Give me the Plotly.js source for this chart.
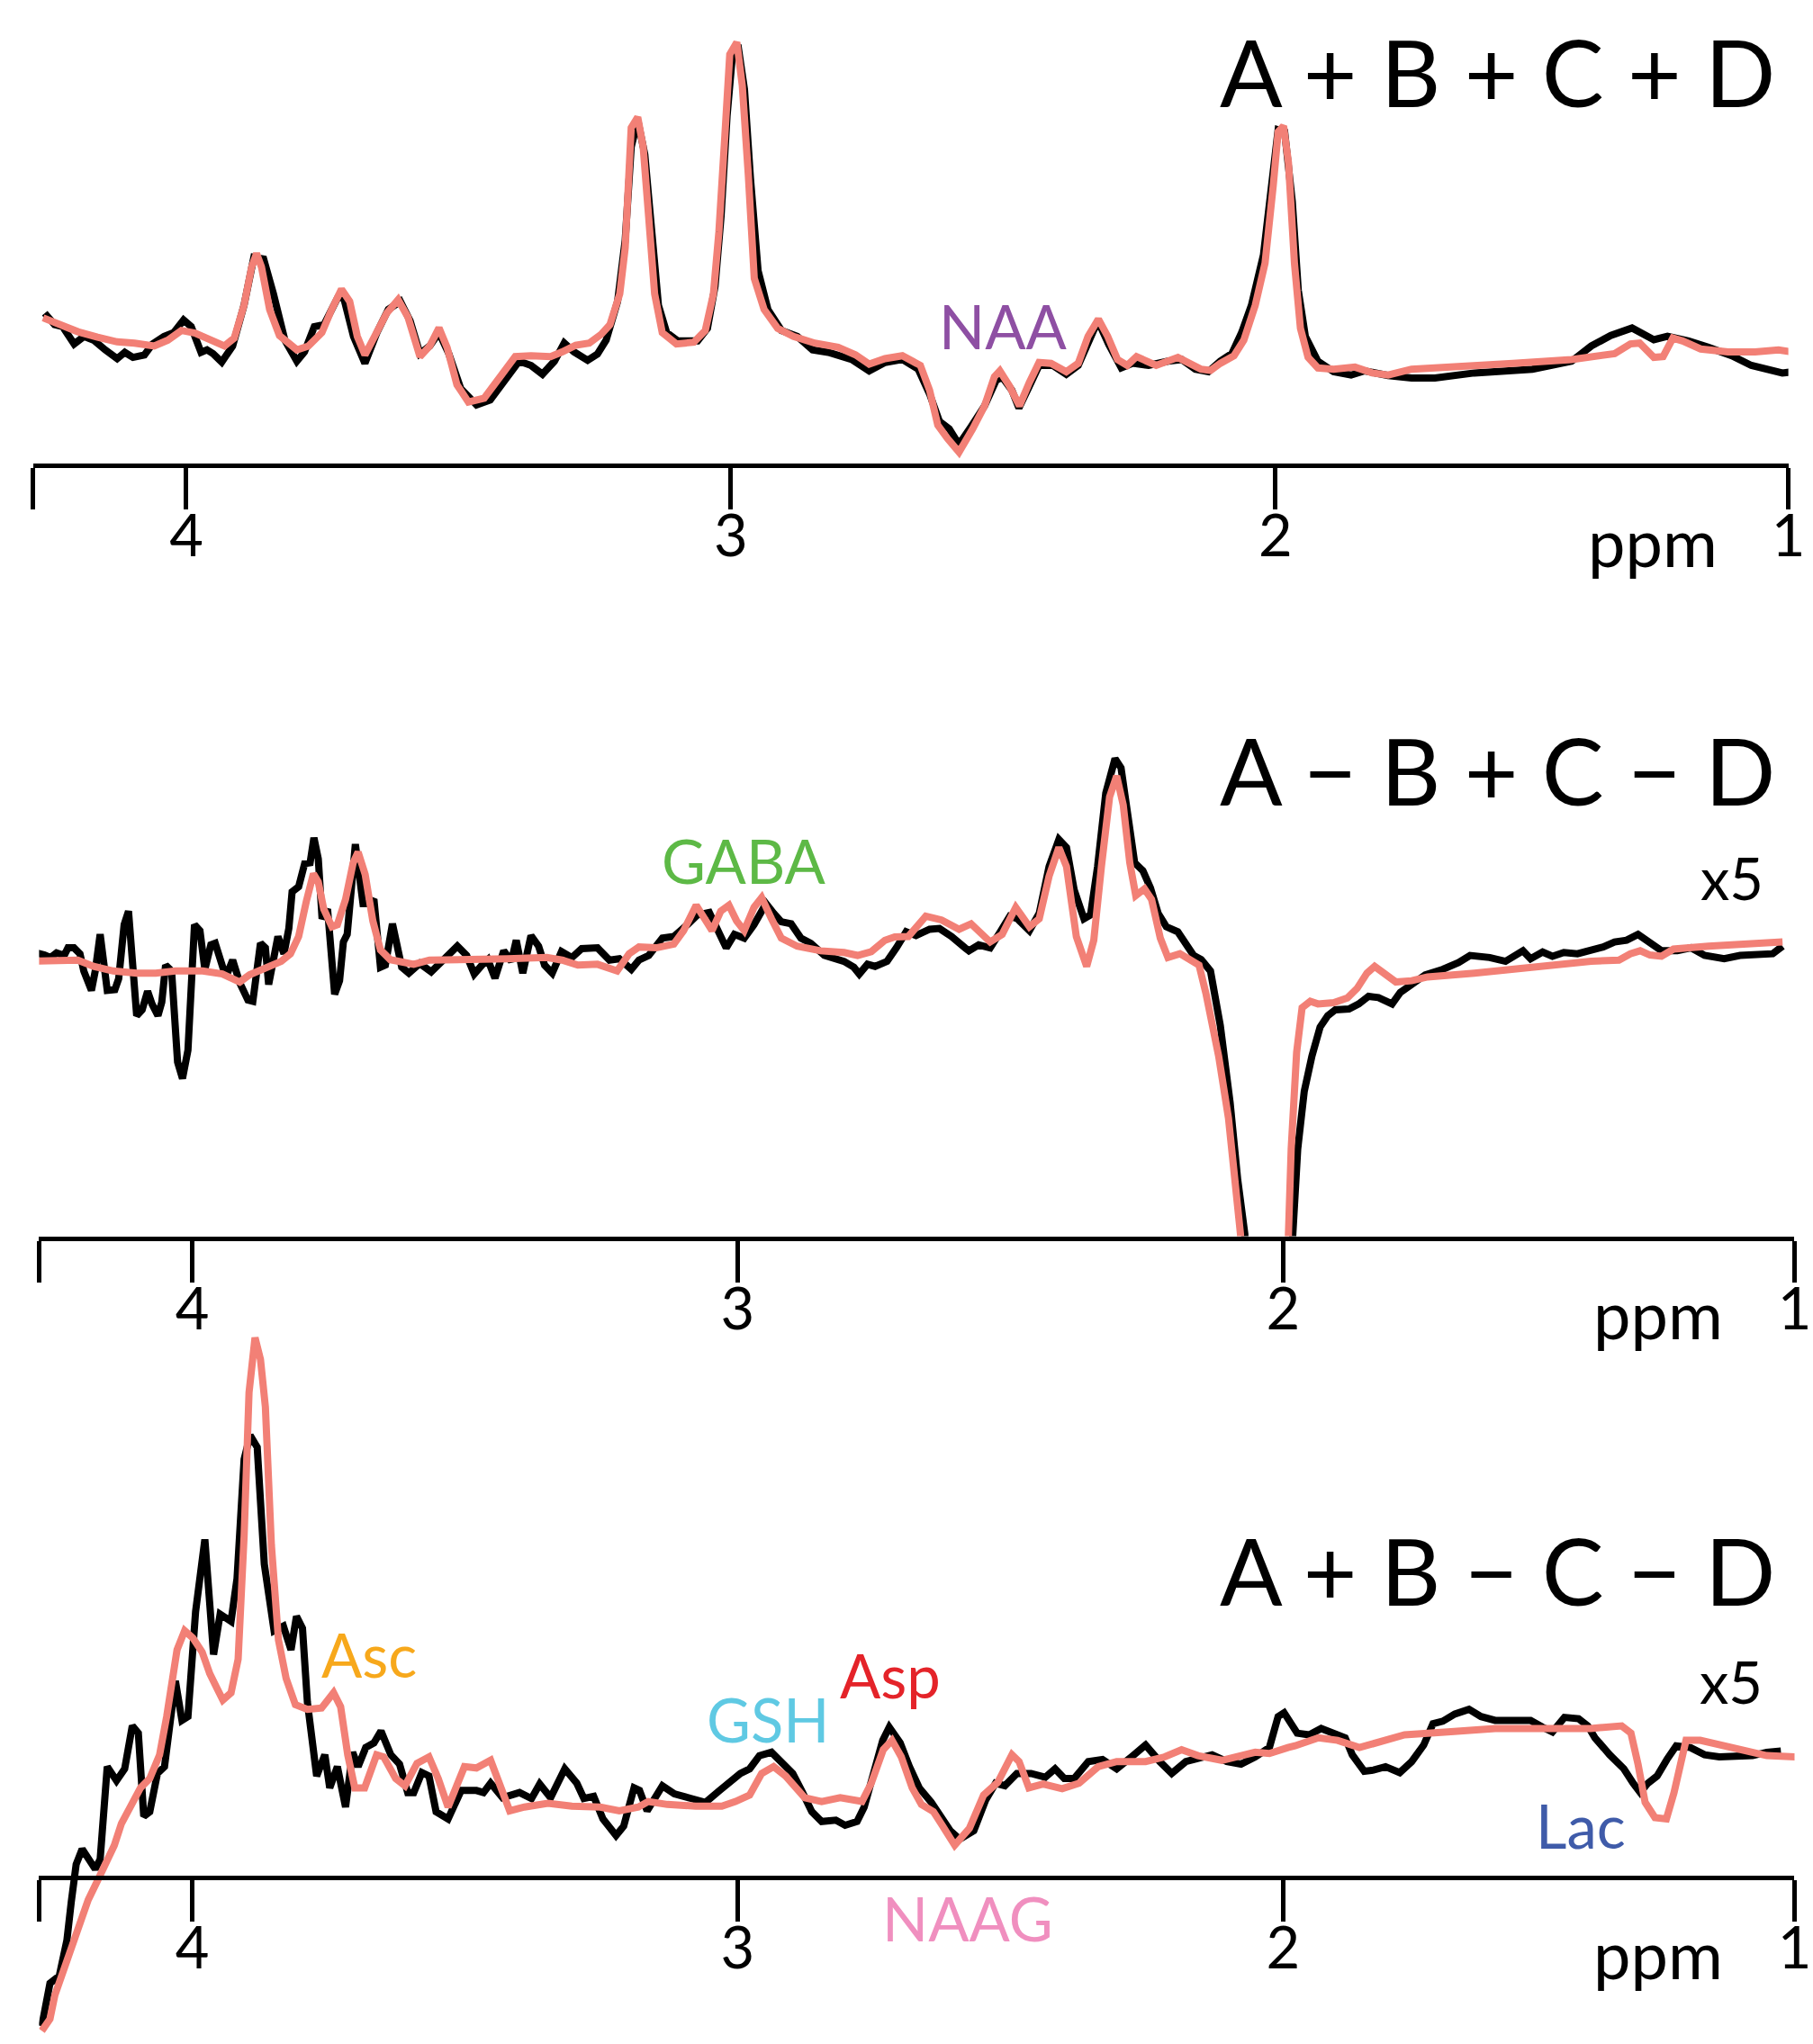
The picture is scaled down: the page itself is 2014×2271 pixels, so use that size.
<!DOCTYPE html>
<html>
<head>
<meta charset="utf-8">
<script src="https://cdn.plot.ly/plotly-3.0.1.min.js"></script>
<style>
  html, body { margin: 0; padding: 0; background: #fff; }
  #chart { width: 2014px; height: 2271px; }
</style>
</head>
<body>
<div id="chart"></div>
<script>
// ---- panel 1 : A + B + C + D ----
var p1BlackPpm = [4.260,4.242,4.227,4.206,4.188,4.170,4.149,4.127,4.113,4.098,4.077,4.062,4.041,4.023,4.005,3.991,3.973,3.962,3.951,3.935,3.915,3.894,3.876,3.858,3.840,3.819,3.797,3.783,3.765,3.747,3.722,3.711,3.693,3.672,3.650,3.629,3.607,3.589,3.571,3.553,3.536,3.518,3.496,3.467,3.442,3.417,3.389,3.367,3.346,3.324,3.306,3.288,3.263,3.245,3.229,3.208,3.194,3.183,3.171,3.158,3.145,3.133,3.118,3.097,3.061,3.043,3.029,3.018,3.007,2.997,2.987,2.975,2.964,2.950,2.932,2.907,2.878,2.850,2.821,2.778,2.746,2.717,2.685,2.656,2.635,2.617,2.599,2.581,2.559,2.534,2.513,2.502,2.484,2.471,2.452,2.434,2.409,2.384,2.362,2.342,2.326,2.306,2.283,2.262,2.233,2.197,2.172,2.147,2.123,2.101,2.080,2.062,2.044,2.022,2.008,1.995,1.983,1.969,1.958,1.945,1.922,1.893,1.861,1.836,1.793,1.750,1.707,1.635,1.528,1.456,1.420,1.384,1.345,1.327,1.305,1.280,1.241,1.205,1.162,1.126,1.098,1.069,1.047];
var p1BlackAmp = [35.3,32.6,32.1,28.0,29.8,28.9,26.6,24.5,26.0,24.8,25.4,28.0,29.8,30.7,33.7,32.1,26.0,26.6,25.7,23.7,27.5,37.2,48.6,48.2,39.9,28.9,23.9,26.1,32.1,32.6,39.0,39.0,29.8,23.4,30.7,36.2,38.1,33.5,25.7,27.5,30.7,25.7,17.4,13.5,14.7,19.3,23.9,22.9,20.8,23.9,28.2,26.1,24.1,25.6,28.9,38.1,52.7,74.8,81.2,73.0,54.6,37.2,30.7,28.7,28.7,31.7,41.7,58.3,82.1,96.8,99.1,88.5,67.4,45.4,36.2,31.2,29.8,26.6,26.0,24.3,21.6,23.6,24.3,22.0,16.1,9.6,7.8,4.1,8.3,13.3,19.3,20.2,17.0,12.8,17.9,22.9,22.9,20.8,22.9,29.4,33.5,27.9,22.3,23.4,22.9,23.9,24.3,22.0,21.4,23.9,25.7,30.7,37.2,49.1,66.5,78.9,78.4,61.9,40.8,29.8,23.9,21.4,20.6,21.6,20.5,19.9,19.9,21.1,22.0,23.9,27.5,30.0,31.8,30.5,29.0,29.8,28.7,27.2,25.2,22.9,22.0,21.1,21.4];
var p1RedPpm = [4.263,4.234,4.199,4.163,4.127,4.095,4.059,4.034,4.009,3.984,3.955,3.930,3.912,3.894,3.880,3.871,3.862,3.847,3.829,3.797,3.776,3.751,3.733,3.715,3.700,3.686,3.672,3.657,3.632,3.611,3.593,3.571,3.553,3.536,3.521,3.503,3.482,3.453,3.424,3.396,3.367,3.331,3.310,3.285,3.260,3.238,3.222,3.204,3.194,3.183,3.171,3.161,3.151,3.140,3.126,3.100,3.068,3.047,3.032,3.022,3.011,3.002,2.989,2.979,2.968,2.957,2.939,2.914,2.885,2.846,2.803,2.771,2.746,2.717,2.685,2.652,2.635,2.620,2.602,2.581,2.556,2.534,2.516,2.506,2.488,2.470,2.452,2.434,2.412,2.384,2.362,2.344,2.325,2.308,2.290,2.272,2.255,2.219,2.179,2.151,2.137,2.119,2.101,2.076,2.058,2.037,2.019,2.004,1.995,1.985,1.976,1.965,1.954,1.940,1.922,1.893,1.854,1.822,1.793,1.750,1.671,1.564,1.456,1.377,1.348,1.331,1.305,1.288,1.270,1.252,1.219,1.169,1.119,1.076,1.047];
var p1RedAmp = [34.2,32.6,30.9,29.6,28.5,28.2,27.5,28.9,31.2,30.6,28.9,27.5,29.4,37.2,46.3,49.5,46.3,36.2,30.0,26.6,27.5,30.7,36.2,41.0,38.1,29.8,25.4,28.9,35.3,38.5,34.4,25.0,27.5,31.8,27.1,18.3,14.2,15.1,20.2,25.0,25.2,25.0,26.1,27.7,28.2,30.3,32.6,39.9,50.9,79.4,81.9,74.8,58.3,39.9,30.7,28.0,28.4,31.2,39.9,54.6,77.5,96.8,99.7,89.4,68.3,43.6,36.2,31.7,29.8,28.2,27.2,25.4,23.2,24.5,25.2,22.9,17.0,8.7,5.5,2.3,7.8,13.3,20.2,21.6,17.9,13.3,18.8,23.6,23.4,21.4,23.4,29.8,33.9,29.8,24.3,22.9,25.0,22.9,24.8,22.9,22.0,21.7,23.4,25.2,28.9,37.2,47.2,65.6,78.4,79.8,71.1,47.2,31.7,24.8,22.3,22.0,22.5,21.1,20.6,22.0,22.5,23.4,24.3,25.7,28.0,28.2,24.8,25.0,29.4,28.7,26.8,26.1,26.1,26.6,26.0];

// ---- panel 2 : A - B + C - D (x5) ----
var p2BlackPpm = [4.296,4.285,4.271,4.260,4.249,4.235,4.228,4.217,4.206,4.199,4.185,4.178,4.169,4.156,4.142,4.135,4.125,4.117,4.102,4.092,4.082,4.074,4.063,4.056,4.049,4.038,4.027,4.018,4.008,3.996,3.986,3.977,3.966,3.958,3.943,3.934,3.926,3.913,3.898,3.889,3.875,3.866,3.860,3.843,3.832,3.823,3.817,3.805,3.794,3.784,3.777,3.769,3.762,3.752,3.739,3.730,3.723,3.716,3.701,3.687,3.676,3.667,3.655,3.646,3.633,3.616,3.603,3.583,3.562,3.544,3.530,3.514,3.497,3.483,3.469,3.458,3.445,3.429,3.415,3.406,3.394,3.379,3.365,3.354,3.340,3.323,3.304,3.286,3.257,3.235,3.217,3.195,3.181,3.163,3.138,3.117,3.092,3.074,3.052,3.036,3.021,3.006,2.988,2.970,2.948,2.934,2.920,2.902,2.884,2.866,2.841,2.805,2.787,2.777,2.762,2.748,2.726,2.709,2.691,2.673,2.648,2.630,2.608,2.583,2.576,2.558,2.537,2.519,2.501,2.487,2.465,2.447,2.429,2.411,2.397,2.383,2.365,2.353,2.340,2.325,2.308,2.297,2.282,2.272,2.257,2.243,2.229,2.214,2.193,2.179,2.164,2.150,2.133,2.115,2.097,2.083,2.070,2.050,2.025,2.000,1.982,1.973,1.961,1.947,1.932,1.918,1.904,1.879,1.861,1.843,1.825,1.800,1.785,1.764,1.739,1.707,1.678,1.657,1.621,1.592,1.560,1.546,1.524,1.506,1.485,1.460,1.435,1.413,1.392,1.370,1.349,1.331,1.306,1.277,1.252,1.227,1.191,1.162,1.134,1.102,1.084];
var p2BlackAmp = [65.1,66.7,66.2,65.6,66.7,66.1,67.9,67.9,66.5,62.4,57.8,62.4,71.1,57.8,58.0,60.6,73.4,76.6,51.8,53.2,57.6,54.6,51.8,55.0,63.8,62.4,40.8,36.9,43.6,73.4,72.0,62.8,68.6,69.0,62.8,62.4,65.0,59.6,55.5,55.2,69.0,67.9,59.2,70.6,66.5,72.5,81.2,82.4,87.9,88.1,94.0,89.0,74.8,77.1,56.9,60.1,69.3,71.1,92.5,78.4,78.4,79.4,63.3,63.8,73.6,63.3,61.9,64.2,62.2,64.4,66.1,68.3,66.1,61.7,63.8,65.1,60.7,67.2,64.7,69.7,61.9,70.8,68.3,63.8,61.9,67.0,65.6,67.7,67.9,65.0,65.3,62.8,65.0,66.1,70.2,70.6,73.4,75.7,76.3,71.6,67.9,71.1,70.2,73.4,78.4,76.1,74.1,73.6,70.2,69.0,66.1,64.7,63.3,61.7,64.0,63.5,64.7,67.9,71.7,70.8,72.3,72.5,70.6,67.9,67.2,68.6,67.9,71.6,75.4,74.8,72.0,76.1,87.2,93.6,91.7,81.7,74.8,75.7,87.2,104.6,112.8,110.6,98.2,88.1,86.2,82.1,76.1,72.9,71.7,68.8,66.1,65.1,62.4,49.5,31.2,12.8,0,-80,-250,-80,0,20.2,33.9,42.2,49.1,51.8,53.2,53.4,54.6,56.4,56.1,54.6,57.3,59.2,61.5,62.8,64.4,66.1,65.6,64.7,67.2,65.3,66.9,65.9,66.8,66.5,67.2,68.1,69.3,69.7,71.1,69.3,67.2,67.2,67.9,66.1,65.3,66.1,66.2,66.5,68.3];
var p2RedPpm = [4.296,4.246,4.210,4.181,4.145,4.102,4.067,4.031,3.981,3.945,3.913,3.895,3.866,3.837,3.820,3.805,3.791,3.778,3.769,3.759,3.744,3.734,3.719,3.705,3.696,3.683,3.669,3.655,3.637,3.594,3.565,3.494,3.422,3.350,3.322,3.293,3.257,3.221,3.199,3.181,3.149,3.117,3.099,3.076,3.060,3.047,3.031,3.016,3.002,2.988,2.970,2.956,2.938,2.920,2.891,2.848,2.805,2.780,2.755,2.730,2.712,2.687,2.673,2.655,2.626,2.594,2.572,2.555,2.537,2.515,2.490,2.465,2.447,2.429,2.411,2.397,2.379,2.360,2.347,2.333,2.318,2.305,2.293,2.281,2.270,2.254,2.241,2.225,2.211,2.189,2.171,2.154,2.141,2.118,2.100,2.086,2.078,2.060,2.035,2.010,1.992,1.985,1.975,1.965,1.950,1.936,1.907,1.882,1.864,1.846,1.832,1.814,1.793,1.764,1.735,1.649,1.542,1.435,1.384,1.363,1.345,1.327,1.306,1.284,1.220,1.148,1.084];
var p2RedAmp = [64.7,65.1,65.0,63.5,62.4,61.9,61.9,62.4,62.4,61.7,59.8,61.5,63.3,64.7,66.5,70.6,78.9,85.5,83.5,77.1,72.9,73.4,79.4,88.1,90.6,85.3,74.3,67.4,65.1,64.0,65.0,65.0,65.3,65.6,65.0,63.8,64.0,62.4,66.5,68.1,67.9,68.8,72.0,78.0,74.8,72.0,76.6,78.0,74.3,72.0,77.5,79.8,74.8,70.2,68.3,67.2,66.8,66.1,67.0,69.7,70.5,70.6,72.7,75.4,74.5,72.3,73.6,71.7,69.3,71.1,77.5,72.9,74.8,84.9,91.7,87.2,70.6,63.5,69.7,87.2,103.7,108.7,101.8,88.1,80.3,81.9,79.4,70.2,65.6,66.5,65.3,63.8,56.9,42.2,27.5,11.0,0,-80,-250,-80,0,20.2,43.1,53.7,55.2,54.6,54.9,56.0,58.3,61.9,63.5,61.7,59.8,60.1,61.0,61.9,63.5,64.7,65.0,66.5,67.2,66.2,65.9,67.6,68.3,68.8,69.3];

// ---- panel 3 : A + B - C - D (x5) ----
var p3BlackPpm = [4.276,4.261,4.244,4.230,4.222,4.213,4.202,4.191,4.178,4.169,4.156,4.139,4.124,4.110,4.099,4.089,4.078,4.064,4.051,4.031,4.019,4.008,3.994,3.977,3.961,3.949,3.929,3.918,3.905,3.894,3.881,3.868,3.850,3.833,3.819,3.809,3.798,3.789,3.780,3.772,3.757,3.748,3.734,3.719,3.706,3.696,3.682,3.667,3.654,3.636,3.620,3.605,3.594,3.579,3.566,3.553,3.531,3.507,3.479,3.466,3.453,3.431,3.400,3.378,3.363,3.343,3.317,3.295,3.282,3.264,3.247,3.223,3.209,3.190,3.180,3.166,3.138,3.116,3.085,3.059,3.033,3.007,2.995,2.978,2.960,2.938,2.921,2.899,2.881,2.864,2.846,2.820,2.803,2.781,2.768,2.750,2.734,2.722,2.702,2.685,2.667,2.645,2.628,2.610,2.593,2.567,2.545,2.527,2.510,2.488,2.462,2.436,2.418,2.401,2.383,2.357,2.331,2.305,2.278,2.252,2.226,2.204,2.178,2.130,2.103,2.077,2.051,2.025,2.009,1.998,1.974,1.952,1.930,1.908,1.886,1.873,1.851,1.834,1.812,1.786,1.764,1.742,1.725,1.707,1.685,1.659,1.637,1.611,1.576,1.546,1.524,1.506,1.484,1.458,1.441,1.428,1.401,1.375,1.358,1.345,1.331,1.314,1.296,1.279,1.253,1.227,1.200,1.174,1.139,1.113,1.087];
var p3BlackAmp = [-35.0,-24.9,-23.2,-14.8,-5.8,3.1,6.7,4.3,2.0,4.3,26.1,22.8,25.6,35.7,34.0,14.4,15.5,24.5,26.1,46.3,37.0,37.9,62.6,79.6,52.5,62.0,60.3,70.4,98.5,104.1,101.3,73.8,58.1,59.2,53.6,61.5,58.7,41.3,31.2,23.9,28.9,21.1,26.1,16.6,29.5,26.1,30.6,31.7,34.5,28.9,26.7,20.0,20.0,24.7,23.9,15.5,13.8,20.5,20.5,20.0,22.2,18.8,20.0,18.6,22.0,18.8,25.6,22.2,18.6,19.1,13.8,9.9,12.1,21.1,20.5,15.7,21.6,19.7,18.6,17.7,20.5,23.6,24.5,25.6,28.7,29.5,27.3,24.5,20.0,15.5,13.2,13.5,12.3,13.2,16.6,24.5,32.3,35.4,31.7,26.1,21.1,17.7,14.6,11.0,9.0,11.0,18.3,22.2,21.6,24.5,24.5,23.6,25.6,23.3,23.3,27.3,27.8,25.6,28.4,31.2,27.3,24.5,27.3,28.9,27.3,26.7,28.4,30.6,37.9,38.8,34.0,33.6,35.1,34.0,32.9,28.9,25.0,25.3,26.1,24.7,27.3,31.2,36.2,36.8,38.5,39.6,37.9,37.0,37.0,37.0,35.4,34.3,37.7,37.4,35.7,32.9,28.9,25.6,22.2,20.0,22.2,23.9,27.8,31.0,30.6,28.9,28.4,28.7,28.7,29.5,29.8];
var p3RedPpm = [4.276,4.261,4.252,4.239,4.222,4.209,4.191,4.174,4.156,4.143,4.130,4.112,4.095,4.078,4.060,4.047,4.038,4.028,4.014,3.999,3.982,3.968,3.955,3.944,3.929,3.916,3.905,3.896,3.885,3.875,3.866,3.855,3.842,3.828,3.811,3.789,3.763,3.741,3.728,3.715,3.702,3.684,3.662,3.649,3.627,3.610,3.588,3.566,3.549,3.531,3.501,3.479,3.453,3.435,3.418,3.391,3.348,3.304,3.252,3.217,3.182,3.164,3.129,3.077,3.029,3.004,2.978,2.956,2.934,2.912,2.877,2.846,2.812,2.772,2.755,2.733,2.717,2.700,2.680,2.663,2.641,2.624,2.602,2.575,2.549,2.523,2.497,2.484,2.466,2.440,2.405,2.374,2.339,2.305,2.252,2.217,2.186,2.156,2.112,2.051,2.025,1.991,1.978,1.935,1.900,1.860,1.821,1.777,1.698,1.611,1.524,1.436,1.379,1.362,1.349,1.336,1.318,1.297,1.283,1.270,1.261,1.235,1.174,1.113,1.060];
var p3RedAmp = [-36.1,-33.3,-27.7,-22.7,-16.5,-11.4,-5.3,-0.8,4.3,7.6,12.7,17.2,21.1,23.3,28.9,37.9,44.6,53.6,58.1,56.4,53.1,48.0,44.6,41.8,43.5,51.4,80.5,114.2,127.1,122.0,110.8,78.3,55.9,46.9,40.7,39.6,39.9,43.5,40.2,28.9,21.1,21.1,28.9,28.4,23.3,21.6,26.9,28.4,23.3,16.6,26.1,25.8,27.6,21.1,15.7,16.6,17.5,16.8,16.6,15.7,16.6,17.9,17.2,16.8,16.8,17.9,19.4,24.5,26.1,23.9,18.8,17.9,18.8,17.9,22.2,30.1,32.3,28.4,21.1,17.2,15.5,12.1,7.6,11.6,19.4,22.4,28.9,27.3,21.1,22.0,20.9,22.2,26.1,27.3,27.3,28.4,30.1,28.7,27.6,29.5,29.2,30.6,31.0,32.9,32.3,30.6,32.1,33.6,34.3,35.1,35.1,35.1,35.7,34.0,26.7,17.7,14.1,13.8,20.0,27.8,32.3,32.3,30.6,28.7,28.4];

// axis ticks (left end, 4, 3, 2, right end labelled 1)
var tickText = ['', '4', '3', '2', '1'];
var xLeft = 4.281;
var xRight1 = 1.058;
var xRight23 = 1.062;

var FONT = 'Lato, "Noto Sans", sans-serif';
var BLACK = '#000000';
var SALMON = '#F28076';

function xaxisCfg(domain, right, extra) {
  var c = {
    domain: domain,
    range: [xLeft, right],
    autorange: false,
    showgrid: false,
    zeroline: false,
    showline: true,
    linecolor: '#000',
    linewidth: 5,
    ticks: 'outside',
    ticklen: 46,
    tickwidth: 5,
    tickcolor: '#000',
    tickmode: 'array',
    tickvals: [xLeft, 4, 3, 2, right],
    ticktext: tickText,
    ticklabelstandoff: -26,
    tickfont: { family: FONT, size: 65, color: '#000' },
    fixedrange: true
  };
  for (var k in extra) c[k] = extra[k];
  return c;
}
function yaxisCfg(domain, range, anchor) {
  return { domain: domain, range: range, autorange: false, visible: false, anchor: anchor, fixedrange: true };
}

function line(x, y, color, width, xa, ya) {
  return { x: x, y: y, mode: 'lines', xaxis: xa, yaxis: ya, hoverinfo: 'skip',
           line: { color: color, width: width }, showlegend: false };
}

var data = [
  line(p1BlackPpm, p1BlackAmp, BLACK, 8, 'x', 'y'),
  line(p1RedPpm, p1RedAmp, SALMON, 8, 'x', 'y'),
  line(p2BlackPpm, p2BlackAmp, BLACK, 8, 'x2', 'y2'),
  line(p2RedPpm, p2RedAmp, SALMON, 8, 'x2', 'y2'),
  line(p3BlackPpm, p3BlackAmp, BLACK, 8, 'x3', 'y3'),
  line(p3RedPpm, p3RedAmp, SALMON, 8, 'x3', 'y3')
];

function label(text, x, y, size, color, xanchor) {
  return { text: text, x: x, y: y, xref: 'paper', yref: 'paper', showarrow: false,
           xanchor: xanchor || 'center', yanchor: 'middle',
           font: { family: FONT, size: size, color: color } };
}

var layout = {
  width: 2014,
  height: 2271,
  margin: { l: 0, r: 0, t: 0, b: 0, pad: 0 },
  paper_bgcolor: '#fff',
  plot_bgcolor: 'rgba(0,0,0,0)',
  xaxis: xaxisCfg([0.01837, 0.98640], xRight1, { anchor: 'y' }),
  yaxis: yaxisCfg([0.77301, 1], [-0.53, 109.75], 'x'),
  xaxis2: xaxisCfg([0.02155, 0.98982], xRight23, { anchor: 'y2' }),
  yaxis2: yaxisCfg([0.39520, 0.66535], [-0.53, 130.5], 'x2'),
  xaxis3: xaxisCfg([0.02155, 0.98982], xRight23, { anchor: 'free', position: 0.08146 }),
  yaxis3: yaxisCfg([0, 0.36548], [-39.2, 136.7], 'x3'),
  annotations: [
    label('A + B + C + D', 0.98014, 0.96521, 103, '#000', 'right'),
    label('A \u2212 B + C \u2212 D', 0.98014, 0.62352, 103, '#000', 'right'),
    label('A + B \u2212 C \u2212 D', 0.98014, 0.23206, 103, '#000', 'right'),
    label('x5', 0.97368, 0.57067, 65, '#000', 'right'),
    label('x5', 0.97294, 0.17724, 65, '#000', 'right'),
    label('ppm', 0.91162, 0.73500, 74, '#000'),
    label('ppm', 0.91460, 0.35718, 74, '#000'),
    label('ppm', 0.91460, 0.04411, 74, '#000'),
    label('NAA', 0.55313, 0.84060, 67, '#8E4FA3'),
    label('GABA', 0.41048, 0.57904, 67, '#5DB946'),
    label('Asc', 0.20343, 0.19066, 67, '#F7A81B'),
    label('GSH', 0.42344, 0.15918, 67, '#5FC9E3'),
    label('Asp', 0.49111, 0.18054, 67, '#E42329'),
    label('NAAG', 0.53376, 0.06143, 67, '#F08FBF'),
    label('Lac', 0.87214, 0.10722, 67, '#3F5BA9')
  ]
};

Plotly.newPlot('chart', data, layout, { staticPlot: true, displayModeBar: false });
</script>
</body>
</html>
